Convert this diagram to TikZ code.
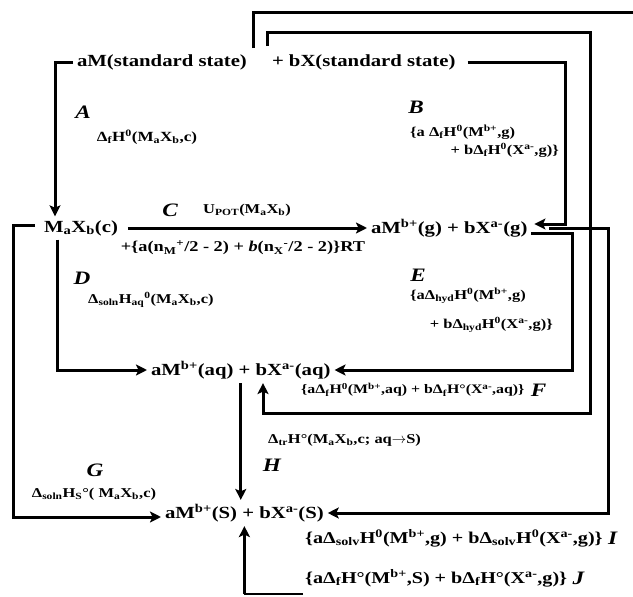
\documentclass[tikz,border=0pt]{standalone}
\usepackage{fontspec}
\setmainfont{Liberation Serif}[FakeStretch=1.22]
\usetikzlibrary{arrows.meta}
\newcommand{\xb}[1]{\textsubscript{#1}}
\newcommand{\xp}[1]{\textsuperscript{#1}}
\begin{document}
\begin{tikzpicture}[x=1pt,y=-1pt,
  stt/.style={font=\fontsize{17}{20}\selectfont\bfseries, inner sep=0pt, outer sep=4pt, anchor=west},
  lbl/.style={font=\fontsize{13.5}{16}\selectfont\bfseries, inner sep=0pt},
  lblbig/.style={font=\fontsize{16.5}{19}\selectfont\bfseries, inner sep=0pt},
  letter/.style={font=\fontsize{19}{22}\selectfont\bfseries\itshape, inner sep=0pt},
  conn/.style={line width=3pt},
  arr/.style={conn, -{Stealth[length=11pt,width=11pt,inset=2.5pt]}},
]
\useasboundingbox (0,0) rectangle (633,597);
% states
\node[stt] (ssM) at (73,62) {aM(standard state)};
\node[stt] (ssX) at (268,62) {+ bX(standard state)};
\node[stt] (cr) at (40,228) {M\xb{a}X\xb{b}(c)};
\node[stt] (gas) at (367,228) {aM\xp{b+}(g) + bX\xp{a-}(g)};
\node[stt] (aq) at (147,370) {aM\xp{b+}(aq) + bX\xp{a-}(aq)};
\node[stt] (S) at (161,513) {aM\xp{b+}(S) + bX\xp{a-}(S)};
% helper coordinates
\coordinate (xA) at (55,0);
\coordinate (xB) at (565,0);
\coordinate (xD) at (57,0);
\coordinate (xE) at (572,0);
\coordinate (xG) at (13,0);
\coordinate (xI) at (608,0);
\coordinate (fS) at (267,46);
\coordinate (fTop) at (590,32);
\coordinate (fBot) at (263,413);
\coordinate (jS) at (253,48);
\coordinate (jTop) at (633,12);
\coordinate (jBot) at (238,594);
\coordinate (jEnd) at (303,594);
\coordinate (gE) at ([yshift=-5pt]gas.east);
\coordinate (gI) at ([xshift=18pt]gas.east);
\coordinate (gB) at ([yshift=4pt]gas.east);
\coordinate (cG) at ([yshift=3pt]cr.west);
% connectors
\draw[arr] (ssM.west) -| (cr.north -| xA);
\draw[arr, shorten <=6pt] (cr.east) -- (gas.west);
\draw[arr, shorten <=8pt, shorten >=3pt] (ssX.east) -- (ssX.east -| xB) |- (gB);
\draw[arr] (fS) |- (fTop) |- (fBot) -- (aq.south -| fBot);
\draw[conn] (jS) |- (jTop);
\draw[line width=2pt] (jEnd) -- (S.south |- jBot);
\draw[arr] (S.south |- jBot) -- (S.south);
\draw[arr] (aq.south) -- (aq.south |- S.north);
\draw[arr] (cr.south -| xD) |- (aq.west);
\draw[arr, shorten <=5pt] (cG) -- (cG -| xG) |- ([yshift=-4pt]S.west);
\draw[arr] (gE) -- (gE -| xE) |- (aq.east);
\draw[arr] (gI) -- (gI -| xI) |- (S.east);
% labels
\node[letter] (lA) at (83,112) {A};
\node[lbl, font=\fontsize{14}{16}\selectfont\bfseries] (tA) at (147,137) {Δ\xb{f}H\xp{0}(M\xb{a}X\xb{b},c)};
\node[letter] (lB) at (416,107) {B};
\node[lbl, anchor=west] (tB1) at (410,132) {\{a Δ\xb{f}H\xp{0}(M\xp{b+},g)};
\node[lbl, anchor=east] (tB2) at (559,150) {+ bΔ\xb{f}H\xp{0}(X\xp{a-},g)\}};
\node[letter] (lC) at (170,210) {C};
\node[lbl] (tC1) at (247,210) {U\xb{POT}(M\xb{a}X\xb{b})};
\node[lbl, font=\fontsize{15}{17}\selectfont\bfseries] (tC2) at (243,248) {+\{a(n\xb{M}\xp{+}/2 - 2) + \textit{b}(n\xb{X}\xp{-}/2 - 2)\}RT};
\node[letter] (lD) at (82,278) {D};
\node[lbl, anchor=west] (tD) at (88,300) {Δ\xb{soln}H\xb{aq}\xp{0}(M\xb{a}X\xb{b},c)};
\node[letter] (lE) at (418,275) {E};
\node[lbl, anchor=west] (tE1) at (410,296) {\{aΔ\xb{hyd}H\xp{0}(M\xp{b+},g)};
\node[lbl, anchor=east] (tE2) at (553,325) {+ bΔ\xb{hyd}H\xp{0}(X\xp{a-},g)\}};
\node[lbl, anchor=west, font=\fontsize{13}{15}\selectfont\bfseries] (tF) at (301,390) {\{aΔ\xb{f}H\xp{0}(M\xp{b+},aq) + bΔ\xb{f}H°(X\xp{a-},aq)\}};
\node[letter, anchor=west] (lF) at ([xshift=6pt]tF.east) {F};
\node[lbl, anchor=west] (tH) at (268,440) {Δ\xb{tr}H°(M\xb{a}X\xb{b},c; aq$\rightarrow$S)};
\node[letter] (lH) at (272,465) {H};
\node[letter] (lG) at (95,470) {G};
\node[lbl] (tG) at (94,494) {Δ\xb{soln}H\xb{S}°( M\xb{a}X\xb{b},c)};
\node[lblbig, anchor=west] (tI) at (305,538) {\{aΔ\xb{solv}H\xp{0}(M\xp{b+},g) + bΔ\xb{solv}H\xp{0}(X\xp{a-},g)\}};
\node[letter, anchor=west] (lI) at ([xshift=5pt]tI.east) {I};
\node[lblbig, anchor=west] (tJ) at (305,578) {\{aΔ\xb{f}H°(M\xp{b+},S) + bΔ\xb{f}H°(X\xp{a-},g)\}};
\node[letter, anchor=west] (lJ) at ([xshift=5pt]tJ.east) {J};
\end{tikzpicture}
\end{document}
